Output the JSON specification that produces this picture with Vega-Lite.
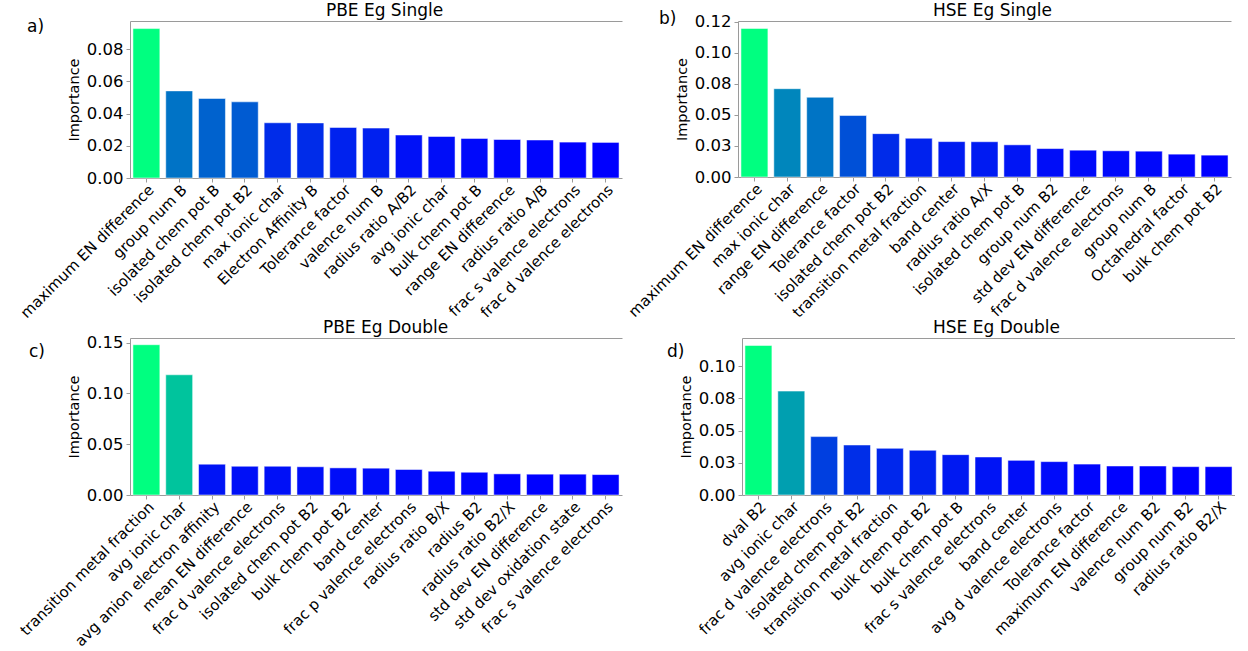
{
  "$schema": "https://vega.github.io/schema/vega-lite/v6.json",
  "padding": {"left": 17, "top": 1, "right": 0, "bottom": 0},
  "config": {
    "font": "DejaVu Sans",
    "view": {"stroke": null},
    "axis": {"domainColor": "#9a9a9a", "tickColor": "#9a9a9a", "tickSize": 4, "labelColor": "#000000", "titleColor": "#000000", "titleFontWeight": "normal", "grid": false},
    "axisX": {"labelFontSize": 15, "labelAngle": -45, "labelPadding": 0, "labelLimit": 400},
    "axisY": {"labelFontSize": 16.5, "titleFontSize": 14.5, "labelPadding": 3, "titlePadding": 5, "labelOverlap": false},
    "title": {"fontSize": 17, "fontWeight": "normal", "color": "#000000", "orient": "top", "anchor": "start", "frame": "group", "align": "left", "baseline": "alphabetic", "offset": 0}
  },
  "resolve": {"scale": {"color": "independent"}},
  "spacing": -3,
  "vconcat": [
    {
      "spacing": 3,
      "resolve": {"scale": {"color": "independent"}},
      "hconcat": [
        {
          "width": 492, "height": 157,
          "title": {"text": "a)", "dx": -103, "dy": 39},
          "data": {"values": [
            {"feature": "maximum EN difference", "importance": 0.0928},
            {"feature": "group num B", "importance": 0.0541},
            {"feature": "isolated chem pot B", "importance": 0.0494},
            {"feature": "isolated chem pot B2", "importance": 0.0473},
            {"feature": "max ionic char", "importance": 0.0343},
            {"feature": "Electron Affinity B", "importance": 0.0342},
            {"feature": "Tolerance factor", "importance": 0.0314},
            {"feature": "valence num B", "importance": 0.0310},
            {"feature": "radius ratio A/B2", "importance": 0.0267},
            {"feature": "avg ionic char", "importance": 0.0258},
            {"feature": "bulk chem pot B", "importance": 0.0246},
            {"feature": "range EN difference", "importance": 0.0239},
            {"feature": "radius ratio A/B", "importance": 0.0236},
            {"feature": "frac s valence electrons", "importance": 0.0223},
            {"feature": "frac d valence electrons", "importance": 0.0221}
          ]},
          "resolve": {"axis": {"x": "independent"}},
          "layer": [
            {
              "mark": {"type": "bar", "stroke": "#ffffff", "strokeOpacity": 0.5, "strokeWidth": 1},
              "encoding": {
                "x": {"field": "feature", "type": "nominal", "sort": null, "scale": {"paddingInner": 0.18, "paddingOuter": 0.09}, "axis": {"title": null}},
                "y": {"field": "importance", "type": "quantitative", "scale": {"domain": [0, 0.0975], "nice": false}, "axis": {"values": [0, 0.02, 0.04, 0.06, 0.08], "format": ".2f", "title": "Importance"}},
                "color": {"field": "importance", "type": "quantitative", "scale": {"range": ["#0000ff", "#00ff80"], "interpolate": "rgb", "zero": false, "nice": false}, "legend": null}
              }
            },
            {
              "mark": {"type": "point", "opacity": 0},
              "encoding": {
                "x": {"field": "feature", "type": "nominal", "sort": null, "axis": {"orient": "top", "labels": false, "ticks": false, "title": "PBE Eg Single", "titleFontSize": 17, "titlePadding": 2, "titleX": 254}}
              }
            }
          ]
        },
        {
          "width": 493, "height": 156,
          "title": {"text": "b)", "dx": -79, "dy": 31},
          "data": {"values": [
            {"feature": "maximum EN difference", "importance": 0.1196},
            {"feature": "max ionic char", "importance": 0.0711},
            {"feature": "range EN difference", "importance": 0.0642},
            {"feature": "Tolerance factor", "importance": 0.0495},
            {"feature": "isolated chem pot B2", "importance": 0.0349},
            {"feature": "transition metal fraction", "importance": 0.0312},
            {"feature": "band center", "importance": 0.0285},
            {"feature": "radius ratio A/X", "importance": 0.0284},
            {"feature": "isolated chem pot B", "importance": 0.0259},
            {"feature": "group num B2", "importance": 0.0229},
            {"feature": "std dev EN difference", "importance": 0.0216},
            {"feature": "frac d valence electrons", "importance": 0.0211},
            {"feature": "group num B", "importance": 0.0208},
            {"feature": "Octahedral factor", "importance": 0.0184},
            {"feature": "bulk chem pot B2", "importance": 0.0176}
          ]},
          "resolve": {"axis": {"x": "independent"}},
          "layer": [
            {
              "mark": {"type": "bar", "stroke": "#ffffff", "strokeOpacity": 0.5, "strokeWidth": 1},
              "encoding": {
                "x": {"field": "feature", "type": "nominal", "sort": null, "scale": {"paddingInner": 0.18, "paddingOuter": 0.09}, "axis": {"title": null}},
                "y": {"field": "importance", "type": "quantitative", "scale": {"domain": [0, 0.1256], "nice": false}, "axis": {"values": [0, 0.025, 0.05, 0.075, 0.1, 0.125], "labelExpr": "format(datum.value == 0.025 ? 0.03 : datum.value == 0.075 ? 0.08 : datum.value == 0.125 ? 0.12 : datum.value, '.2f')", "title": "Importance"}},
                "color": {"field": "importance", "type": "quantitative", "scale": {"range": ["#0000ff", "#00ff80"], "interpolate": "rgb", "zero": false, "nice": false}, "legend": null}
              }
            },
            {
              "mark": {"type": "point", "opacity": 0},
              "encoding": {
                "x": {"field": "feature", "type": "nominal", "sort": null, "axis": {"orient": "top", "labels": false, "ticks": false, "title": "HSE Eg Single", "titleFontSize": 17, "titlePadding": 2, "titleX": 254}}
              }
            }
          ]
        }
      ]
    },
    {
      "spacing": 45,
      "resolve": {"scale": {"color": "independent"}},
      "hconcat": [
        {
          "width": 492, "height": 157,
          "title": {"text": "c)", "dx": -101, "dy": 47},
          "data": {"values": [
            {"feature": "transition metal fraction", "importance": 0.1479},
            {"feature": "avg ionic char", "importance": 0.1183},
            {"feature": "avg anion electron affinity", "importance": 0.0303},
            {"feature": "mean EN difference", "importance": 0.0283},
            {"feature": "frac d valence electrons", "importance": 0.0283},
            {"feature": "isolated chem pot B2", "importance": 0.0278},
            {"feature": "bulk chem pot B2", "importance": 0.0267},
            {"feature": "band center", "importance": 0.0264},
            {"feature": "frac p valence electrons", "importance": 0.0251},
            {"feature": "radius ratio B/X", "importance": 0.0234},
            {"feature": "radius B2", "importance": 0.0224},
            {"feature": "radius ratio B2/X", "importance": 0.0208},
            {"feature": "std dev EN difference", "importance": 0.0205},
            {"feature": "std dev oxidation state", "importance": 0.0205},
            {"feature": "frac s valence electrons", "importance": 0.0201}
          ]},
          "resolve": {"axis": {"x": "independent"}},
          "layer": [
            {
              "mark": {"type": "bar", "stroke": "#ffffff", "strokeOpacity": 0.5, "strokeWidth": 1},
              "encoding": {
                "x": {"field": "feature", "type": "nominal", "sort": null, "scale": {"paddingInner": 0.18, "paddingOuter": 0.09}, "axis": {"title": null}},
                "y": {"field": "importance", "type": "quantitative", "scale": {"domain": [0, 0.1545], "nice": false}, "axis": {"values": [0, 0.05, 0.1, 0.15], "format": ".2f", "title": "Importance"}},
                "color": {"field": "importance", "type": "quantitative", "scale": {"range": ["#0000ff", "#00ff80"], "interpolate": "rgb", "zero": false, "nice": false}, "legend": null}
              }
            },
            {
              "mark": {"type": "point", "opacity": 0},
              "encoding": {
                "x": {"field": "feature", "type": "nominal", "sort": null, "axis": {"orient": "top", "labels": false, "ticks": false, "title": "PBE Eg Double", "titleFontSize": 17, "titlePadding": 2, "titleX": 255}}
              }
            }
          ]
        },
        {
          "width": 493, "height": 157,
          "title": {"text": "d)", "dx": -75, "dy": 47},
          "data": {"values": [
            {"feature": "dval B2", "importance": 0.116},
            {"feature": "avg ionic char", "importance": 0.0806},
            {"feature": "frac d valence electrons", "importance": 0.0453},
            {"feature": "isolated chem pot B2", "importance": 0.0388},
            {"feature": "transition metal fraction", "importance": 0.0362},
            {"feature": "bulk chem pot B2", "importance": 0.0347},
            {"feature": "bulk chem pot B", "importance": 0.0313},
            {"feature": "frac s valence electrons", "importance": 0.0295},
            {"feature": "band center", "importance": 0.0269},
            {"feature": "avg d valence electrons", "importance": 0.0259},
            {"feature": "Tolerance factor", "importance": 0.0240},
            {"feature": "maximum EN difference", "importance": 0.0225},
            {"feature": "valence num B2", "importance": 0.0225},
            {"feature": "group num B2", "importance": 0.0220},
            {"feature": "radius ratio B2/X", "importance": 0.0220}
          ]},
          "resolve": {"axis": {"x": "independent"}},
          "layer": [
            {
              "mark": {"type": "bar", "stroke": "#ffffff", "strokeOpacity": 0.5, "strokeWidth": 1},
              "encoding": {
                "x": {"field": "feature", "type": "nominal", "sort": null, "scale": {"paddingInner": 0.18, "paddingOuter": 0.09}, "axis": {"title": null}},
                "y": {"field": "importance", "type": "quantitative", "scale": {"domain": [0, 0.1218], "nice": false}, "axis": {"values": [0, 0.025, 0.05, 0.075, 0.1], "labelExpr": "format(datum.value == 0.025 ? 0.03 : datum.value == 0.075 ? 0.08 : datum.value, '.2f')", "title": "Importance"}},
                "color": {"field": "importance", "type": "quantitative", "scale": {"range": ["#0000ff", "#00ff80"], "interpolate": "rgb", "zero": false, "nice": false}, "legend": null}
              }
            },
            {
              "mark": {"type": "point", "opacity": 0},
              "encoding": {
                "x": {"field": "feature", "type": "nominal", "sort": null, "axis": {"orient": "top", "labels": false, "ticks": false, "title": "HSE Eg Double", "titleFontSize": 17, "titlePadding": 2, "titleX": 254}}
              }
            }
          ]
        }
      ]
    }
  ]
}
